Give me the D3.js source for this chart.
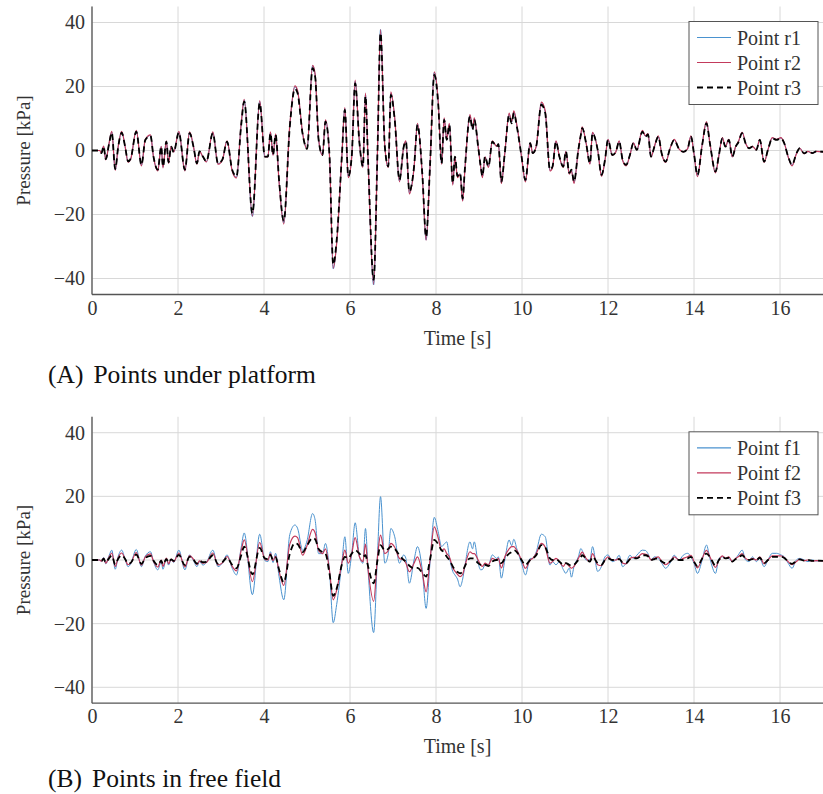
<!DOCTYPE html>
<html>
<head>
<meta charset="utf-8">
<script src="https://cdn.jsdelivr.net/npm/d3@7"></script>
<style>
  body { margin: 0; background: #fff; }
  text { font-family: "Liberation Serif", "Times New Roman", serif; }
</style>
</head>
<body>
<div id="chart"></div>
<script>
// Sample times (s), shared by every series
const time = [
  0.00,0.18,0.22,0.27,0.32,0.40,0.46,0.54,0.61,0.69,
  0.77,0.84,0.90,1.03,1.15,1.24,1.36,1.43,1.53,1.61,
  1.65,1.73,1.78,1.84,1.90,2.02,2.16,2.27,2.36,2.44,
  2.50,2.58,2.66,2.81,2.93,3.03,3.14,3.26,3.36,3.47,
  3.54,3.73,3.90,4.02,4.09,4.15,4.21,4.27,4.35,4.46,
  4.60,4.72,4.78,4.90,5.00,5.13,5.19,5.27,5.36,5.43,
  5.52,5.61,5.69,5.81,5.88,5.96,6.04,6.12,6.22,6.30,
  6.36,6.42,6.55,6.64,6.71,6.81,6.89,6.95,7.04,7.15,
  7.25,7.30,7.38,7.49,7.57,7.68,7.77,7.86,7.96,8.05,
  8.13,8.19,8.25,8.31,8.39,8.44,8.50,8.56,8.62,8.67,
  8.79,8.85,8.89,8.98,9.04,9.08,9.14,9.22,9.31,9.41,
  9.45,9.52,9.60,9.70,9.76,9.81,9.88,9.99,10.08,10.19,
  10.25,10.33,10.45,10.54,10.65,10.71,10.79,10.87,10.96,11.02,
  11.10,11.15,11.21,11.31,11.37,11.40,11.49,11.58,11.64,11.76,
  11.85,11.93,12.00,12.10,12.18,12.26,12.34,12.42,12.51,12.59,
  12.67,12.80,12.87,12.93,13.00,13.08,13.17,13.25,13.34,13.44,
  13.54,13.65,13.75,13.85,13.93,14.00,14.08,14.19,14.29,14.37,
  14.50,14.58,14.66,14.73,14.81,14.89,14.97,15.03,15.12,15.20,
  15.28,15.36,15.45,15.53,15.63,15.72,15.82,15.92,16.02,16.10,
  16.19,16.28,16.38,16.46,16.56,16.65,16.75,16.85,17.00
];

// (A) points under platform, pressure in kPa
const r1 = [
  0,0,-0.8,1.3,-2.8,2.4,5.8,-6.0,1.2,5.8,
  1.2,-3.5,-2.6,6.1,-4.6,3.4,4.7,-2.0,-6.2,1.2,
  -5.2,2.9,-3.8,1.2,-0.5,5.8,-6.2,5.6,1.2,-4.1,
  -0.3,-2.0,-3.5,5.6,-4.1,-3.0,2.9,-6.2,-8.3,8.2,
  15.8,-20.6,15.3,-2.0,-2.0,5.6,-1.4,5.0,-9.5,-22.6,
  7.7,19.9,18.5,5.1,0.5,26.5,23.6,3.4,-1.4,9.3,
  -0.8,-37.0,-28.8,-2.0,13.1,-8.2,-2.0,21.6,2.4,-5.1,
  17.5,-3.1,-42.0,0.2,37.8,1.2,-5.1,17.9,9.9,-9.5,
  1.2,2.9,-13.2,-5.1,8.2,-7.2,-28.0,-5.1,24.4,15.2,
  -4.1,9.9,3.4,8.2,-10.5,-2.0,-8.2,-7.2,-15.6,-6.2,
  10.9,6.7,9.9,1.2,-5.1,-8.2,-2.0,-5.1,2.9,1.2,
  2.1,-10.0,-0.8,11.3,8.8,12.1,7.7,-2.0,-9.5,2.4,
  -0.8,1.2,14.7,12.0,-6.2,-5.1,2.9,-2.0,-5.1,-0.3,
  -7.2,-6.2,-10.0,0.2,5.1,7.2,2.4,-4.1,5.6,0.2,
  -7.8,-3.0,3.4,-1.4,-0.5,2.9,-3.0,-4.6,-1.4,2.4,
  0.2,6.1,4.4,5.1,-2.0,1.2,4.4,-1.0,-3.6,0.5,
  3.4,0.5,-0.4,0.5,4.4,-1.0,-7.9,1.8,8.8,2.3,
  -6.8,-1.4,3.9,1.2,3.4,-2.0,1.2,2.6,5.6,2.3,
  0.7,1.2,0.2,3.4,-3.6,0.2,3.9,3.4,3.9,2.3,
  -2.0,-4.6,-1.0,0.7,-0.9,-0.3,-0.8,-0.3,-0.4
];
const r2 = [
  0,0,-0.9,1.4,-2.9,2.5,6.0,-6.2,1.3,6.0,
  1.3,-3.7,-2.7,6.3,-4.8,3.5,4.9,-2.0,-6.4,1.3,
  -5.4,3.0,-4.0,1.3,-0.5,6.0,-6.4,5.8,1.3,-4.3,
  -0.3,-2.0,-3.6,5.8,-4.3,-3.1,3.0,-6.4,-8.6,8.5,
  16.0,-20.5,15.6,-2.0,-2.0,5.8,-1.5,5.2,-9.8,-23.0,
  8.0,20.2,18.8,5.3,0.5,26.6,23.8,3.5,-1.5,9.6,
  -0.9,-36.8,-29.0,-2.0,13.4,-8.5,-2.0,22.0,2.4,-5.3,
  17.9,-3.2,-41.8,0.2,37.8,1.3,-5.3,18.3,10.2,-9.8,
  1.3,3.0,-13.6,-5.3,8.5,-7.4,-28.0,-5.3,24.6,15.6,
  -4.3,10.2,3.5,8.5,-10.8,-2.0,-8.5,-7.4,-15.8,-6.4,
  11.2,6.9,10.2,1.3,-5.3,-8.5,-2.0,-5.3,3.0,1.3,
  2.1,-10.3,-0.9,11.7,9.0,12.4,8.0,-2.0,-9.8,2.4,
  -0.9,1.3,15.1,12.4,-6.4,-5.3,3.0,-2.0,-5.3,-0.3,
  -7.4,-6.4,-10.3,0.2,5.3,7.4,2.4,-4.3,5.7,0.2,
  -8.1,-3.1,3.5,-1.5,-0.5,3.0,-3.1,-4.8,-1.5,2.4,
  0.2,6.3,4.6,5.3,-2.0,1.3,4.6,-1.1,-3.7,0.5,
  3.5,0.5,-0.4,0.5,4.6,-1.1,-8.2,1.8,9.0,2.3,
  -7.0,-1.5,4.0,1.3,3.5,-2.0,1.3,2.7,5.7,2.3,
  0.7,1.3,0.2,3.5,-3.7,0.2,4.0,3.5,4.0,2.3,
  -2.0,-4.8,-1.1,0.7,-1.0,-0.3,-0.8,-0.3,-0.4
];
const r3 = [
  0,0,-0.8,1.3,-2.7,2.3,5.6,-5.8,1.2,5.6,
  1.2,-3.4,-2.5,5.9,-4.5,3.3,4.6,-1.9,-6.0,1.2,
  -5.0,2.8,-3.7,1.2,-0.5,5.6,-6.0,5.4,1.2,-4.0,
  -0.3,-1.9,-3.4,5.4,-4.0,-2.9,2.8,-6.0,-8.1,8.0,
  15.3,-19.6,14.8,-1.9,-1.9,5.4,-1.4,4.9,-9.2,-22.0,
  7.5,19.3,18.0,5.0,0.5,25.7,23.0,3.3,-1.4,9.0,
  -0.8,-35.7,-28.0,-1.9,12.7,-8.0,-1.9,21.0,2.3,-5.0,
  17.0,-3.0,-40.4,0.2,36.7,1.2,-5.0,17.4,9.6,-9.2,
  1.2,2.8,-12.8,-5.0,8.0,-7.0,-27.0,-5.0,23.6,14.8,
  -4.0,9.6,3.3,8.0,-10.2,-1.9,-8.0,-7.0,-15.0,-6.0,
  10.6,6.5,9.6,1.2,-5.0,-8.0,-1.9,-5.0,2.8,1.2,
  2.0,-9.7,-0.8,11.0,8.5,11.7,7.5,-1.9,-9.2,2.3,
  -0.8,1.2,14.3,11.7,-6.0,-5.0,2.8,-1.9,-5.0,-0.3,
  -7.0,-6.0,-9.7,0.2,5.0,7.0,2.3,-4.0,5.4,0.2,
  -7.6,-2.9,3.3,-1.4,-0.5,2.8,-2.9,-4.5,-1.4,2.3,
  0.2,5.9,4.3,5.0,-1.9,1.2,4.3,-1.0,-3.5,0.5,
  3.3,0.5,-0.4,0.5,4.3,-1.0,-7.7,1.7,8.5,2.2,
  -6.6,-1.4,3.8,1.2,3.3,-1.9,1.2,2.5,5.4,2.2,
  0.7,1.2,0.2,3.3,-3.5,0.2,3.8,3.3,3.8,2.2,
  -1.9,-4.5,-1.0,0.7,-0.9,-0.3,-0.8,-0.3,-0.4
];

// (B) points in free field, pressure in kPa
const f1 = [
  0,0,-0.5,0.8,-1.2,1.5,3.1,-2.9,1.2,3.1,
  0.2,-2.1,-1.2,3.3,-2.1,1.2,2.6,-0.5,-3.1,-0.5,
  -2.9,0.5,-1.6,0.2,-0.8,3.1,-3.1,1.6,-0.2,-2.1,
  -0.5,-1.6,-0.8,3.1,-2.1,-1.0,1.6,-2.6,-4.7,4.0,
  8.5,-10.9,8.1,-0.2,-0.5,2.6,-0.8,2.1,-5.2,-12.5,
  8.0,11.0,10.0,3.0,6.0,14.6,12.5,2.0,2.0,5.2,
  -3.0,-19.7,-14.0,-1.0,7.3,-4.2,2.0,11.7,1.0,-1.0,
  9.9,-3.1,-22.8,2.0,19.9,-1.0,2.0,9.9,7.3,-1.0,
  1.6,0.5,-7.3,0.0,4.2,-3.0,-15.2,-1.0,13.4,8.9,
  4.2,5.0,5.7,1.0,-3.6,-4.7,-6.0,-8.4,-6.0,-2.0,
  5.7,3.5,5.7,-1.0,-3.1,-3.0,-1.5,-1.5,1.6,0.5,
  1.0,-5.7,0.0,6.3,4.5,6.5,3.5,-1.0,-4.7,0.5,
  0.5,2.5,8.1,7.3,-1.6,-0.5,-1.5,-0.5,-3.0,-4.2,
  -2.5,-5.4,-2.0,1.0,3.6,3.0,0.0,0.0,4.2,-3.6,
  -2.0,1.0,1.6,-0.5,0.0,1.5,-2.1,-1.0,1.5,0.5,
  1.5,3.1,3.0,2.0,0.0,1.0,0.5,-1.0,-2.6,-1.0,
  1.5,0.0,1.5,2.1,1.0,-1.0,-4.2,0.0,4.7,0.5,
  -4.2,0.5,1.0,0.5,0.5,-0.5,0.5,1.6,3.1,0.0,
  -0.5,1.0,-0.5,0.5,-2.1,0.0,2.1,2.1,1.6,1.0,
  -1.0,-2.6,0.0,0.5,0.0,-0.5,0.0,-0.3,-0.2
];
const f2 = [
  0,0,-0.4,0.6,-1.0,1.0,2.2,-2.0,0.8,2.2,
  0.3,-1.5,-1.0,2.3,-1.6,1.0,1.9,-0.4,-2.2,0.0,
  -2.0,0.6,-1.2,0.3,-0.5,2.2,-2.2,1.4,0.2,-1.5,
  -0.3,-1.0,-0.8,2.2,-1.6,-0.9,1.1,-2.0,-3.4,3.0,
  6.3,-6.8,5.5,0.2,0.0,2.0,-0.2,1.2,-3.5,-8.0,
  5.0,7.5,7.0,1.5,4.5,9.6,8.5,3.0,2.0,3.5,
  -3.0,-12.5,-9.5,-1.0,3.1,-1.0,2.0,7.0,1.0,-0.5,
  5.0,-3.0,-13.0,1.0,7.8,2.0,3.0,5.2,4.0,0.5,
  0.0,-1.0,-3.7,-1.0,1.0,-4.0,-10.0,0.0,10.4,7.0,
  3.0,3.5,2.0,1.0,-2.5,-3.5,-4.5,-5.2,-4.5,-2.0,
  2.6,2.0,2.0,0.0,-1.5,-2.0,-1.0,-1.5,0.5,0.0,
  0.5,-2.5,1.0,3.5,4.2,4.2,3.0,0.0,-2.6,0.0,
  0.5,2.0,5.2,4.0,-1.0,-0.5,0.5,-0.5,-2.0,-1.0,
  -2.0,-2.6,-2.0,0.5,2.0,2.5,0.5,-0.5,2.0,-1.5,
  -1.8,0.0,1.0,0.0,0.0,0.5,-1.0,-1.2,0.5,0.8,
  0.8,2.0,1.8,1.5,0.0,0.5,1.0,-0.5,-1.5,-0.5,
  1.0,0.0,0.5,1.0,1.5,-0.5,-2.5,0.5,3.0,1.0,
  -2.3,0.0,1.3,0.5,1.0,-0.5,0.5,1.0,2.0,0.5,
  0.0,0.5,0.0,1.0,-1.2,0.0,1.3,1.3,1.3,0.8,
  -0.5,-1.5,-0.5,0.3,-0.2,0.0,-0.3,-0.2,-0.3
];
const f3 = [
  0,0,-0.3,0.4,-0.8,0.6,1.4,-1.4,0.4,1.5,
  0.3,-1.2,-0.9,1.7,-1.2,0.6,1.3,-0.2,-1.6,-0.2,
  -1.4,0.3,-0.8,0.2,-0.3,1.6,-1.6,1.0,0.1,-1.1,
  -0.2,-0.7,-0.6,1.5,-1.2,-0.7,0.7,-1.5,-2.6,1.5,
  4.2,-4.5,3.8,0.5,0.3,1.6,0.0,0.8,-3.0,-7.0,
  2.0,5.3,5.0,2.5,4.5,6.9,6.5,3.5,2.5,2.0,
  -4.0,-11.3,-9.0,-1.5,1.0,0.5,2.0,3.1,2.0,1.0,
  1.5,-2.0,-7.3,0.0,4.7,3.0,3.5,4.2,3.5,1.5,
  0.0,-0.5,-1.8,-2.6,-2.5,-4.0,-5.2,0.0,6.3,5.0,
  3.0,2.5,1.0,0.0,-2.0,-3.0,-3.8,-4.2,-3.5,-2.0,
  0.5,0.5,0.3,-1.0,-1.6,-1.9,-1.5,-1.9,-0.5,0.0,
  0.0,-1.0,0.5,2.0,2.5,3.1,2.5,0.0,-1.6,0.0,
  0.5,1.5,4.7,4.0,0.5,0.0,0.3,-0.5,-1.5,-1.0,
  -1.5,-1.8,-1.5,0.0,1.0,1.5,0.5,-0.5,1.0,-1.0,
  -1.5,0.0,0.5,0.0,0.0,0.3,-0.8,-1.0,0.2,0.6,
  0.5,1.5,1.5,1.2,0.0,0.3,0.6,-0.5,-1.0,-0.5,
  0.5,0.0,0.0,0.5,1.0,-0.5,-2.0,0.5,2.0,1.0,
  -1.8,0.0,1.0,0.5,0.7,-0.5,0.3,0.7,1.5,0.5,
  0.0,0.3,0.0,0.7,-1.0,0.0,1.0,1.0,1.0,0.6,
  -0.5,-1.2,-0.3,0.2,-0.2,0.0,-0.3,-0.2,-0.3
];

const xTicks = [0, 2, 4, 6, 8, 10, 12, 14, 16];
const yTicks = [-40, -20, 0, 20, 40];

const width = 823;
const height = 794;

const svg = d3.select("#chart")
    .append("svg")
        .attr("width", width)
        .attr("height", height);

const x = d3.scaleLinear()
    .domain([0, 17])
    .range([92, 823]);

const blue = "#4a92cf";
const red = "#c33a5c";

function drawPanel(top, bottom, series, caption, captionY) {
    const y = d3.scaleLinear()
        .domain([-45, 45])
        .range([bottom, top]);

    const g = svg.append("g");

    // grid
    g.append("g")
        .selectAll("line")
        .data(xTicks)
        .join("line")
            .attr("x1", d => x(d)).attr("x2", d => x(d))
            .attr("y1", top).attr("y2", bottom)
            .attr("stroke", "#d8d8d8")
            .attr("stroke-width", 1);
    g.append("g")
        .selectAll("line")
        .data(yTicks)
        .join("line")
            .attr("x1", x(0)).attr("x2", x(17))
            .attr("y1", d => y(d)).attr("y2", d => y(d))
            .attr("stroke", "#d8d8d8")
            .attr("stroke-width", 1);

    // tick labels
    const ax = g.append("g")
        .attr("transform", `translate(0,${bottom})`)
        .call(d3.axisBottom(x).tickValues(xTicks).tickSize(0).tickPadding(6));
    const ay = g.append("g")
        .attr("transform", `translate(${x(0)},0)`)
        .call(d3.axisLeft(y).tickValues(yTicks).tickSize(0).tickPadding(7));
    [ax, ay].forEach(a => {
        a.select(".domain").remove();
        a.selectAll("text")
            .style("font-family", '"Liberation Serif", serif')
            .style("font-size", "20px")
            .attr("fill", "#333");
    });

    // axis lines
    g.append("line")
        .attr("x1", x(0)).attr("x2", x(0))
        .attr("y1", top).attr("y2", bottom)
        .attr("stroke", "#555").attr("stroke-width", 1.3);
    g.append("line")
        .attr("x1", x(0)).attr("x2", x(17))
        .attr("y1", bottom).attr("y2", bottom)
        .attr("stroke", "#555").attr("stroke-width", 1.3);

    // series
    const line = d3.line()
        .x((d, i) => x(time[i]))
        .y(d => y(d))
        .curve(d3.curveMonotoneX);

    series.forEach(s => {
        g.append("path")
            .datum(s.values)
            .attr("d", line)
            .attr("fill", "none")
            .attr("stroke", s.color)
            .attr("stroke-width", s.width)
            .attr("stroke-dasharray", s.dash)
            .attr("stroke-linejoin", "round");
    });

    // axis titles
    g.append("text")
        .attr("x", (x(0) + x(17)) / 2)
        .attr("y", bottom + 50)
        .attr("text-anchor", "middle")
        .style("font-size", "20px")
        .attr("fill", "#333")
        .text("Time [s]");
    g.append("text")
        .attr("transform", `translate(30,${y(0)}) rotate(-90)`)
        .attr("text-anchor", "middle")
        .style("font-size", "19px")
        .attr("fill", "#333")
        .text("Pressure [kPa]");

    // legend
    const lx = 689, ly = top + 15;
    const leg = g.append("g");
    leg.append("rect")
        .attr("x", lx).attr("y", ly)
        .attr("width", 129).attr("height", 83)
        .attr("fill", "#fff")
        .attr("stroke", "#555")
        .attr("stroke-width", 1);
    series.forEach((s, i) => {
        const yy = ly + 16 + i * 25;
        leg.append("line")
            .attr("x1", lx + 8).attr("x2", lx + 42)
            .attr("y1", yy).attr("y2", yy)
            .attr("stroke", s.color)
            .attr("stroke-width", Math.max(s.width, 1.2))
            .attr("stroke-dasharray", s.dash);
        leg.append("text")
            .attr("x", lx + 48)
            .attr("y", yy + 7)
            .style("font-size", "20px")
            .attr("fill", "#333")
            .text(s.name);
    });

    // caption
    const cap = svg.append("text")
        .attr("x", 48)
        .attr("y", captionY)
        .style("font-size", "25.5px")
        .attr("fill", "#111");
    cap.append("tspan").text(caption[0]);
    cap.append("tspan").attr("dx", 10).text(caption[1]);
}

drawPanel(6.5, 294.5, [
    {name: "Point r1", values: r1, color: blue, width: 1, dash: null},
    {name: "Point r2", values: r2, color: red, width: 1.2, dash: null},
    {name: "Point r3", values: r3, color: "#000", width: 1.8, dash: "6,4"}
], ["(A)", "Points under platform"], 383);

drawPanel(416.8, 703.2, [
    {name: "Point f1", values: f1, color: blue, width: 1, dash: null},
    {name: "Point f2", values: f2, color: red, width: 1.2, dash: null},
    {name: "Point f3", values: f3, color: "#000", width: 1.8, dash: "6,4"}
], ["(B)", "Points in free field"], 787);
</script>
</body>
</html>
